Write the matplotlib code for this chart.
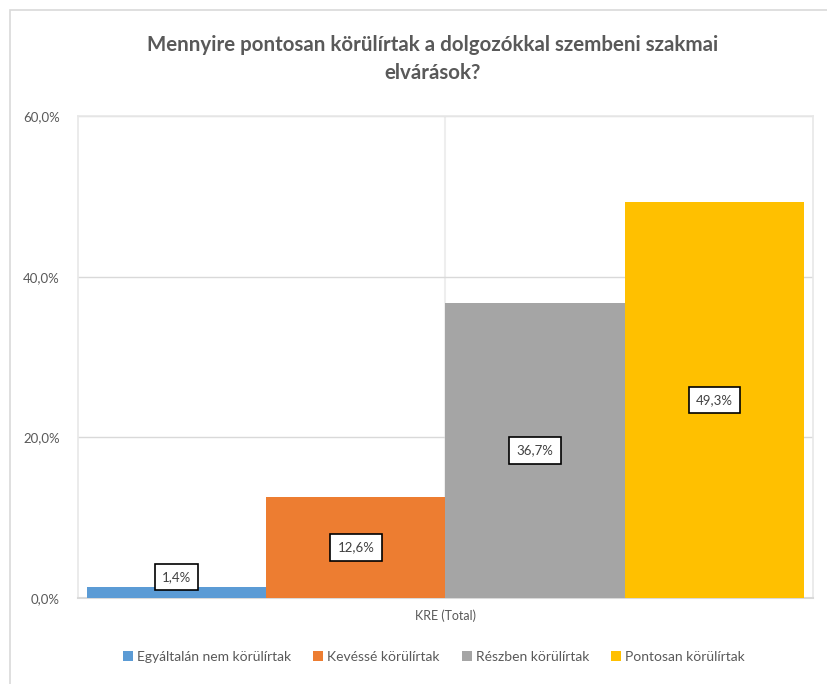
import matplotlib
matplotlib.use("Agg")
import matplotlib.pyplot as plt
from matplotlib.patches import Rectangle
import numpy as np

plt.rcParams['font.family'] = ['Lato', 'DejaVu Sans']

# --- données ---
title = "Mennyire pontosan körülírtak a dolgozókkal szembeni szakmai\nelvárások?"
category = "KRE (Total)"
series = ["Egyáltalán nem körülírtak", "Kevéssé körülírtak",
          "Részben körülírtak", "Pontosan körülírtak"]
values = [1.4, 12.6, 36.7, 49.3]
colors = ["#5B9BD5", "#ED7D31", "#A5A5A5", "#FFC000"]
yticks = [0, 20, 40, 60]

txt_col = "#595959"
grid_col = "#D9D9D9"

fig = plt.figure(figsize=(8.28, 6.84), dpi=100)
# cadre du graphique (coupé à droite et en bas)
fig.patches.append(Rectangle((10 / 828, -0.1), 1.2, (684 - 10) / 684 + 0.1,
                             transform=fig.transFigure, fill=False,
                             edgecolor=grid_col, lw=1.2))

ax = fig.add_axes([78 / 828, 86 / 684, (813 - 78) / 828, (598 - 116) / 684])

x = np.arange(len(values))
v = np.array(values) / 100
bars = ax.bar(x, v, width=1.0, color=colors, label=series, zorder=3)

ax.set_xlim(-0.55, 3.55)
ax.set_ylim(0, 0.6)
ax.set_yticks([t / 100 for t in yticks])
ax.set_yticklabels([f"{t:.1f}%".replace(".", ",") for t in yticks],
                   color=txt_col, fontsize=9.5)
ax.tick_params(axis='y', length=0, pad=13)
ax.set_xticks([1.5])
ax.set_xticklabels([category], color=txt_col, fontsize=9)
ax.tick_params(axis='x', length=0, pad=8)

ax.grid(axis='y', color=grid_col, lw=1, zorder=0)
ax.axvline(1.5, color="#EEEEEE", lw=1.5, zorder=0)
for s in ax.spines.values():
    s.set_color("#E8E8E8")
    s.set_linewidth(1.2)
ax.spines['bottom'].set_color(grid_col)
ax.spines['bottom'].set_linewidth(1.5)

for xi, val in zip(x, values):
    y = max(val / 200, 0.026)
    ax.text(xi, y, f"{val:.1f}%".replace(".", ","), ha='center', va='center',
            fontsize=9.5, color="#404040", zorder=5,
            bbox=dict(boxstyle='square,pad=0.55', fc='white', ec='black', lw=1.2))

fig.text(433 / 828, 1 - 59 / 684, title, ha='center', va='center',
         fontsize=14.8, fontweight='bold', color=txt_col, linespacing=1.45)

leg = fig.legend(handles=bars, labels=series, loc='center',
                 bbox_to_anchor=(434 / 828, 1 - 657 / 684), ncol=4,
                 frameon=False, fontsize=10, handlelength=0.7, handleheight=0.7,
                 handletextpad=0.3, columnspacing=1.6)
for t in leg.get_texts():
    t.set_color(txt_col)

fig.savefig("out.png", dpi=100)
